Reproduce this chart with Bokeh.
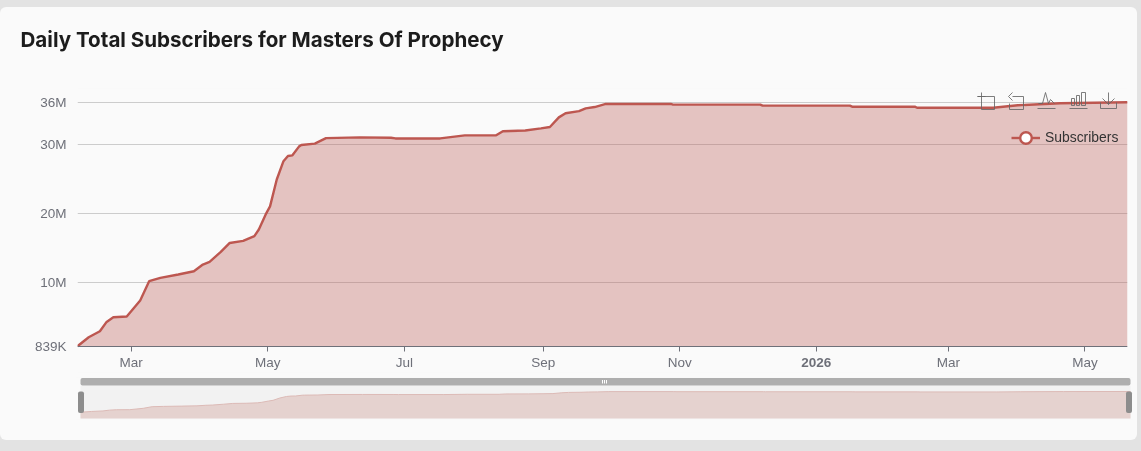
import pandas as pd
from bokeh.plotting import figure
from bokeh.layouts import column
from bokeh.models import (FixedTicker, Range1d, Legend, LegendItem, BoxAnnotation,
                          ColumnDataSource)
from bokeh.core.properties import value
from bokeh.embed import file_html
from bokeh.resources import INLINE

title_text = "Daily Total Subscribers for Masters Of Prophecy"
series_name = "Subscribers"

dates = ["2025-02-05","2025-02-10","2025-02-15","2025-02-18","2025-02-21","2025-02-27","2025-03-05",
         "2025-03-09","2025-03-14","2025-03-22","2025-03-29","2025-04-02","2025-04-05","2025-04-10",
         "2025-04-14","2025-04-20","2025-04-25","2025-04-27","2025-04-30","2025-05-02","2025-05-05",
         "2025-05-08","2025-05-10","2025-05-12","2025-05-15","2025-05-16","2025-05-22","2025-05-27",
         "2025-06-11","2025-06-25","2025-06-27","2025-07-17","2025-07-28","2025-08-11","2025-08-14",
         "2025-08-24","2025-08-31","2025-09-04","2025-09-08","2025-09-11","2025-09-17","2025-09-20",
         "2025-09-24","2025-09-29","2025-10-28","2025-10-29","2025-12-07","2025-12-08","2026-01-16",
         "2026-01-17","2026-02-14","2026-02-15","2026-03-21","2026-04-01","2026-04-20","2026-05-20"]
subscribers = [0.839,2.14,3.0,4.36,5.04,5.14,7.46,10.26,10.74,11.23,11.7,12.67,13.06,14.5,15.8,16.1,
               16.8,17.75,19.9,21.1,25.0,27.65,28.4,28.5,29.8,30.0,30.2,31.0,31.1,31.05,30.95,30.95,
               31.4,31.4,32.0,32.1,32.4,32.6,34.0,34.6,34.9,35.3,35.5,35.95,35.95,35.85,35.85,35.7,
               35.7,35.55,35.55,35.4,35.4,35.75,36.05,36.2]
y_tick_values = [0.839, 10, 20, 30, 36.16]
y_tick_labels = ["839K", "10M", "20M", "30M", "36M"]
x_tick_dates = ["2025-03-01","2025-05-01","2025-07-01","2025-09-01","2025-11-01","2026-01-01","2026-03-01","2026-05-01"]
x_tick_labels = ["Mar","May","Jul","Sep","Nov","2026","Mar","May"]

LINE = "#bd5750"
FONT = "Liberation Sans"

t = pd.to_datetime(dates)
ms = [x.timestamp() * 1000 for x in t]
tick_ms = [pd.Timestamp(d).timestamp() * 1000 for d in x_tick_dates]

# ---- header strip holding the title: page px y 8..60
header = figure(width=1125, height=52, output_backend="svg", toolbar_location=None,
                x_axis_location=None, y_axis_location=None, frame_align=False,
                x_range=Range1d(8, 1133), y_range=Range1d(60, 8),
                background_fill_color="#fafafa", border_fill_color="#fafafa", outline_line_color=None,
                min_border_left=0, min_border_right=0, min_border_top=0, min_border_bottom=0)
header.grid.visible = False
header.text(x=[20], y=[39], text=[title_text], text_align="left", text_baseline="middle",
            text_font=value("Inter"), text_font_size="20.6px", text_font_style="bold", text_color="#1c1c1c")

# ---- main chart: frame spans page px x 77..1127, y 88..372; baseline at 345.7
F_L, F_R, F_T, F_Z, F_B = 77, 1127, 88, 345.7, 372
PX_PER_M = 6.9
y_base = min(subscribers)
y_end = y_base + (F_Z - F_T) / PX_PER_M
y_low = y_base - (F_B - F_Z) / PX_PER_M
ms_per_px = (ms[-1] - ms[0]) / (F_R - F_L)

p = figure(width=1125, height=314, output_backend="svg", toolbar_location=None,
           x_axis_type="datetime", frame_align=False,
           x_range=Range1d(ms[0], ms[-1]), y_range=Range1d(y_low, y_end),
           background_fill_color="#fafafa", border_fill_color="#fafafa",
           min_border_left=F_L - 8, min_border_right=1133 - F_R, min_border_top=F_T - 60,
           min_border_bottom=374 - F_B, outline_line_color=None)

p.xgrid.visible = False
p.ygrid.ticker = FixedTicker(ticks=y_tick_values)
p.ygrid.grid_line_color = "#cccccc"
p.ygrid.grid_line_width = 1

p.yaxis.ticker = FixedTicker(ticks=y_tick_values)
p.yaxis.major_label_overrides = dict(zip(y_tick_values, y_tick_labels))
p.yaxis.axis_line_color = None
p.yaxis.major_tick_line_color = None
p.yaxis.minor_tick_line_color = None
p.yaxis.major_label_text_color = "#6e7079"
p.yaxis.major_label_text_font = FONT
p.yaxis.major_label_text_font_size = "13.5px"
p.yaxis.major_label_standoff = 5

p.xaxis.ticker = FixedTicker(ticks=tick_ms)
p.xaxis.major_label_overrides = {m: ("" if l == "2026" else l) for m, l in zip(tick_ms, x_tick_labels)}
p.xaxis.fixed_location = y_base
p.xaxis.axis_line_color = "#6e7079"
p.xaxis.axis_line_width = 1
p.xaxis.major_tick_line_color = "#6e7079"
p.xaxis.major_tick_out = 5
p.xaxis.major_tick_in = 0
p.xaxis.minor_tick_line_color = None
p.xaxis.major_label_text_color = "#6e7079"
p.xaxis.major_label_text_font = FONT
p.xaxis.major_label_text_font_size = "13.5px"
p.xaxis.major_label_standoff = 4

src = ColumnDataSource(dict(x=ms, y=subscribers, base=[y_base] * len(ms)))
p.varea(x="x", y1="base", y2="y", source=src, fill_color="#b85450", fill_alpha=0.33)
main_line = p.line(x="x", y="y", source=src, line_color=LINE, line_width=2.4)
marker = p.scatter(x=ms[:1], y=[float("nan")], size=13, marker="circle", fill_color="#ffffff",
                   line_color=LINE, line_width=2.4)

bold_x = [m for m, l in zip(tick_ms, x_tick_labels) if l == "2026"]
p.text(x=bold_x, y=[y_base], text=["2026"], y_offset=16, text_align="center", text_baseline="middle",
       text_font=value(FONT), text_font_size="13.5px", text_font_style="bold", text_color="#6e7079")

legend = Legend(items=[LegendItem(label=series_name, renderers=[main_line, marker])],
                location=(1011 - F_L, F_B - 153.5), orientation="horizontal",
                background_fill_alpha=0, border_line_color=None, margin=0, padding=0,
                glyph_width=29, glyph_height=33, label_standoff=5,
                label_text_font=FONT, label_text_font_size="13.9px", label_text_color="#333333")
p.add_layout(legend)

# toolbox icons (page px)
def px_x(x): return ms[0] + (x - F_L) * ms_per_px
def px_y(y): return y_base + (F_Z - y) / PX_PER_M
icons = [
    [(977, 96, 994, 96), (994, 96, 994, 109), (994, 109, 981, 109), (981, 109, 981, 92), (977, 96, 985, 96)],
    [(1012, 96, 1023, 96), (1023, 96, 1023, 109), (1023, 109, 1009, 109), (1009, 109, 1009, 103), (1012, 92, 1008, 96), (1008, 96, 1012, 100)],
    [(1037, 108, 1055, 108), (1038, 103, 1042, 103), (1042, 103, 1045, 92), (1045, 92, 1048, 103), (1048, 103, 1050, 99), (1050, 99, 1054, 103)],
    [(1069, 108, 1087, 108), (1071, 98, 1071, 105), (1074, 98, 1074, 105), (1071, 98, 1074, 98), (1071, 105, 1074, 105),
     (1076, 95, 1076, 105), (1079, 95, 1079, 105), (1076, 95, 1079, 95), (1076, 105, 1079, 105),
     (1081, 92, 1081, 105), (1085, 92, 1085, 105), (1081, 92, 1085, 92), (1081, 105, 1085, 105)],
    [(1100, 102, 1100, 108), (1100, 108, 1116, 108), (1116, 108, 1116, 102), (1108, 92, 1108, 104), (1102, 98, 1108, 104), (1108, 104, 1114, 98)],
]
xs, ys = [], []
for icon in icons:
    for x0, y0, x1, y1 in icon:
        xs.append([px_x(x0), px_x(x1)])
        ys.append([px_y(y0), px_y(y1)])
p.multi_line(xs, ys, line_color="#666666", line_width=1, line_alpha=0.85)

# ---- slider: frame spans page px x 75..1133, y 377..419
M_L, M_R, M_T, M_B = 75, 1133, 377, 419
S_L, S_R = 80, 1130
S_PXY_BOTTOM, S_PXY_TOP = 411.7, 391
mini_per_px = (ms[-1] - ms[0]) / (S_R - S_L)
mx = lambda x: ms[0] + (x - S_L) * mini_per_px
v_lo, v_hi = min(subscribers), y_tick_values[-1]
mv_per_px = (v_hi - v_lo) / (S_PXY_BOTTOM - S_PXY_TOP)
my = lambda y: v_lo + (S_PXY_BOTTOM - y) * mv_per_px

mini = figure(width=1125, height=56, output_backend="svg", toolbar_location=None,
              x_axis_location=None, y_axis_location=None, frame_align=False,
              x_range=Range1d(mx(M_L), mx(M_R)), y_range=Range1d(my(M_B), my(M_T)),
              background_fill_color="#fafafa", border_fill_color="#fafafa", outline_line_color=None,
              min_border_left=M_L - 8, min_border_right=0, min_border_top=M_T - 374, min_border_bottom=430 - M_B)
mini.grid.visible = False

def box(left, right, top, bottom, color, radius=0, alpha=1.0):
    mini.add_layout(BoxAnnotation(left=mx(left), right=mx(right), top=my(top), bottom=my(bottom),
                                  fill_color=color, fill_alpha=alpha, line_color=None, border_radius=radius, level="underlay"))

box(S_L, S_R, 385, 418, "#f2f2f2")
box(S_L, S_R, 385, 377.5, "#aeaeae", radius=2)
mini.varea(x=ms, y1=[my(418)] * len(ms), y2=subscribers, fill_color="#e5d2cf")
mini.line(x=ms, y=subscribers, line_color="#dcbab6", line_width=1)
for gx in (602, 604, 606):
    mini.segment(x0=[mx(gx)], x1=[mx(gx)], y0=[my(379.5)], y1=[my(383)], line_color="#ffffff", line_width=1)
for l, r in ((77.5, 83.5), (1125.5, 1131.5)):
    mini.quad(left=[mx(l)], right=[mx(r)], top=[my(391)], bottom=[my(412.5)],
              fill_color="#8d8d8d", line_color=None, border_radius=2)

layout = column(header, p, mini, spacing=0)
html = file_html(layout, INLINE)
style = ("<style>html{background:#e3e3e3}body{background:transparent;margin:8px;height:auto}"
         "body::before{content:'';position:fixed;left:0;top:7px;width:1137px;height:433px;"
         "background:#fafafa;border-radius:6px;z-index:-1}</style>")
html = html.replace("</head>", style + "</head>", 1)
open("out.html", "w").write(html)
